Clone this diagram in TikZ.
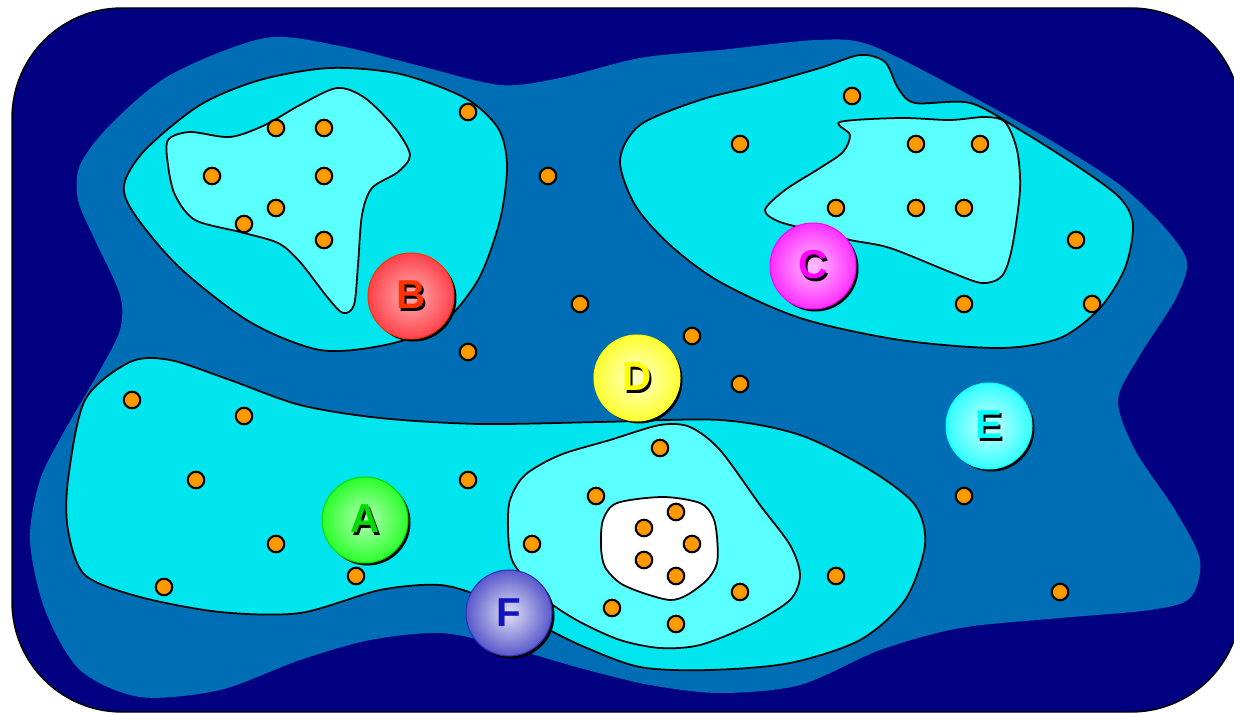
\documentclass[tikz,border=0pt]{standalone}
\usepackage{xcolor}
\usepackage{fontspec}
\usepackage{tikz}
\usetikzlibrary{shadows}
\newfontfamily\ballfont{Liberation Sans}
\definecolor{fondonavy}{RGB}{0, 0, 128}
\definecolor{marmedio}{RGB}{0, 110, 180}
\definecolor{zonacian}{RGB}{0, 229, 238}
\definecolor{zonaclara}{RGB}{90, 255, 255}
\definecolor{puntonar}{RGB}{255, 153, 0}
\definecolor{rojoB}{RGB}{255, 30, 40}
\definecolor{letraB}{RGB}{255, 51, 0}
\definecolor{magC}{RGB}{255, 0, 255}
\definecolor{amaD}{RGB}{255, 255, 0}
\definecolor{cianE}{RGB}{0, 255, 255}
\definecolor{verA}{RGB}{0, 255, 0}
\definecolor{letraA}{RGB}{0, 220, 0}
\definecolor{azulF}{RGB}{45, 45, 190}
\definecolor{letraF}{RGB}{20, 20, 190}
\colorlet{bolaint}{white}
\colorlet{bolaext}{black}
\pgfdeclareradialshading[bolaint,bolaext]{bolaluz}{\pgfpointorigin}{color(0bp)=(bolaint); color(33bp)=(bolaext); color(50bp)=(bolaext)}
\newcommand{\letrasombra}[2]{\rlap{\hspace{1.3pt}\raisebox{-1.3pt}{\color{black}#2}}\textcolor{#1}{#2}}

\begin{document}
\begin{tikzpicture}[x=0.02cm, y=-0.02cm,
  punto/.style={circle, fill=puntonar, draw=black, line width=1.2pt, minimum size=0.33cm, inner sep=0pt},
  bola/.style 2 args={circle, minimum size=1.72cm, inner sep=0pt, /utils/exec={\colorlet{bolaext}{#1}\colorlet{bolaint}{#2}},
    shading=bolaluz, draw=#1, line width=0.6pt,
    drop shadow={shadow xshift=0.05cm, shadow yshift=-0.05cm, fill=black, opacity=1},
    font=\ballfont\bfseries\fontsize{23}{26}\selectfont},
  borde/.style={draw=black, line width=1pt}]
  \clip (0,0) rectangle (1234,713);
  \draw[fill=fondonavy, line width=0.8pt, rounded corners=2.2cm] (12,8) rectangle (1241,712);
  % mar medio
  \fill[marmedio] plot[smooth cycle] coordinates {(265,38) (340,46) (420,66) (500,85) (560,78) (640,58) (720,50) (817,40) (870,45) (960,90) (1050,140) (1120,185) (1165,228) (1187,262) (1175,300) (1140,355) (1118,400) (1135,450) (1175,510) (1200,560) (1190,598) (1150,610) (1060,618) (960,628) (880,650) (800,685) (720,693) (650,685) (580,668) (500,645) (440,633) (370,640) (300,660) (220,690) (140,697) (80,670) (45,610) (30,540) (40,480) (65,430) (100,370) (120,330) (120,295) (95,240) (78,200) (80,165) (110,125) (170,75)};
  % zonas cian
  \draw[borde, fill=zonacian] plot[smooth cycle] coordinates {(124,185) (145,150) (200,105) (260,80) (330,68) (400,74) (465,98) (498,128) (507,165) (500,220) (478,280) (440,325) (385,345) (320,350) (250,322) (180,268) (135,215)};
  \draw[borde, fill=zonaclara] plot[smooth cycle] coordinates {(168,140) (190,132) (230,137) (265,125) (300,105) (337,88) (365,98) (395,128) (410,155) (398,172) (372,188) (362,215) (358,265) (354,305) (343,313) (328,298) (300,262) (278,243) (240,232) (195,220) (175,195) (168,165)};
  \draw[borde, fill=zonacian] plot[smooth cycle] coordinates {(620,160) (640,125) (700,100) (760,85) (820,68) (860,55) (885,62) (898,88) (915,103) (970,103) (1020,130) (1080,168) (1120,198) (1133,225) (1125,268) (1100,308) (1060,338) (1000,348) (900,340) (800,318) (720,282) (670,245) (635,205)};
  \draw[borde, fill=zonaclara] plot[smooth cycle] coordinates {(840,122) (850,135) (843,152) (820,168) (785,190) (765,210) (780,222) (820,232) (850,240) (890,248) (950,272) (982,283) (1002,276) (1012,248) (1020,190) (1017,150) (1005,122) (985,117) (950,120) (900,118)};
  \draw[borde, fill=zonacian] plot[smooth cycle] coordinates {(68,480) (85,400) (130,362) (170,360) (230,380) (300,405) (380,418) (480,424) (600,422) (720,420) (800,435) (870,470) (915,505) (925,545) (905,600) (860,640) (790,663) (710,670) (640,667) (580,645) (530,620) (485,598) (440,585) (380,590) (300,613) (220,612) (140,597) (85,575) (68,530)};
  \draw[borde, fill=zonaclara] plot[smooth cycle] coordinates {(508,530) (512,560) (530,585) (550,603) (580,622) (620,640) (660,648) (700,645) (750,625) (790,600) (800,575) (790,545) (760,505) (720,450) (690,427) (660,425) (610,440) (560,455) (525,475) (510,500)};
  \draw[borde, fill=white] plot[smooth cycle] coordinates {(617,503) (663,497) (700,503) (713,517) (717,537) (717,563) (707,580) (687,595) (670,600) (643,593) (620,583) (605,567) (601,547) (603,520)};
  % puntos
  \foreach \x/\y [count=\i] in {276/128, 324/128, 212/176, 324/176, 276/208, 244/224, 324/240, 468/112, 548/176, 580/304, 692/336, 468/352, 740/384, 852/96, 740/144, 916/144, 980/144, 836/208, 916/208, 964/208, 1076/240, 964/304, 1092/304, 132/400, 244/416, 196/480, 468/480, 276/544, 164/587, 356/576, 660/448, 596/496, 532/544, 644/528, 676/512, 692/544, 644/560, 676/576, 612/608, 676/624, 740/592, 836/576, 964/496, 1060/592} { \node[punto] (p\i) at (\x,\y) {}; }
  % bolas
  \node[bola={rojoB}{rojoB!35!white}, draw=letraB] (bolaB) at (411,296) {\letrasombra{letraB}{B}};
  \node[bola={magC}{magC!25!white}] (bolaC) at (813,266) {\letrasombra{magC}{C}};
  \node[bola={amaD}{amaD!20!white}] (bolaD) at (637,378) {\letrasombra{amaD}{D}};
  \node[bola={cianE}{cianE!20!white}] (bolaE) at (989,426) {\letrasombra{cianE}{E}};
  \node[bola={verA}{verA!30!white}, draw=letraA] (bolaA) at (365,520) {\letrasombra{letraA}{A}};
  \node[bola={azulF}{azulF!15!white}] (bolaF) at (509,613) {\textcolor{letraF}{F}};
\end{tikzpicture}
\end{document}
